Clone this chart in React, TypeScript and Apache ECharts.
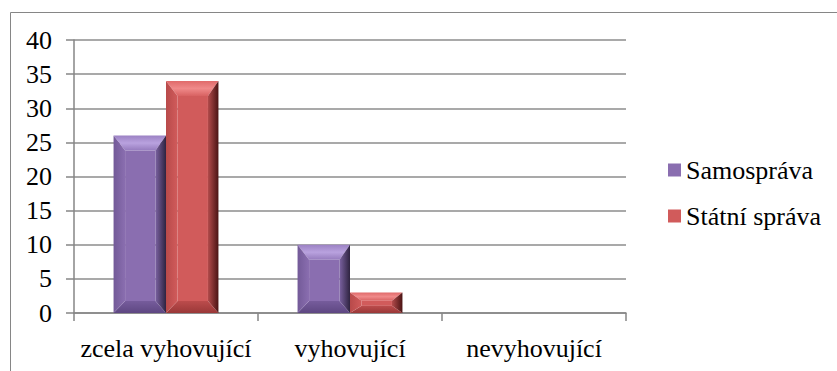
import React, { useEffect, useRef } from "react";
import * as echarts from "echarts";

// Chart data
const categories = ["zcela vyhovující", "vyhovující", "nevyhovující"];
const seriesNames = ["Samospráva", "Státní správa"];
const samospravaValues = [26, 10, 0];
const statniSpravaValues = [34, 3, 0];
const yTicks = { min: 0, max: 40, interval: 5 };

const FONT = "serif";
const FONT_SIZE = 26;
const BAR_RATIO = 0.285; // bar width as share of the category band

type Palette = {
  face: string;
  topA: string;
  topB: string;
  topC: string;
  bottomA: string;
  bottomB: string;
  leftA: string;
  leftB: string;
  rightA: string;
  rightB: string;
};

const purple: Palette = {
  face: "#8A6EB0",
  topA: "#9C82C4",
  topB: "#B9A2DF",
  topC: "#957BBD",
  bottomA: "#765C9C",
  bottomB: "#5E4782",
  leftA: "#735A98",
  leftB: "#8A6EB0",
  rightA: "#7A61A0",
  rightB: "#2E2340",
};

const red: Palette = {
  face: "#D15B5B",
  topA: "#E06A6A",
  topB: "#F08A8A",
  topC: "#D86262",
  bottomA: "#BC4C4C",
  bottomB: "#9A3838",
  leftA: "#B84A4A",
  leftB: "#D15B5B",
  rightA: "#B34B4B",
  rightB: "#4A1414",
};

const lin = (x2: number, y2: number, stops: string[]) => ({
  type: "linear",
  x: 0,
  y: 0,
  x2,
  y2,
  colorStops: stops.map((c, i) => ({ offset: i / (stops.length - 1), color: c })),
});

// Draws one bevelled bar from the category index and value via the axis scales
const makeRenderItem = (slot: number, pal: Palette) => (params: any, api: any) => {
  const cat = api.value(0);
  const val = api.value(1);
  const top = api.coord([cat, val]);
  const base = api.coord([cat, 0]);
  const band = api.size([1, 0])[0];
  const w = band * BAR_RATIO;
  const x = top[0] - w + slot * w;
  const y = top[1];
  const h = base[1] - top[1];
  if (h <= 0.5) return { type: "group", children: [] };

  const T = Math.min(15, h * 0.4);
  const B = Math.min(12, h * 0.35);
  const L = Math.min(12, w * 0.22);
  const R = Math.min(11, w * 0.2);

  return {
    type: "group",
    children: [
      {
        type: "rect",
        shape: { x: x + L, y: y + T, width: w - L - R, height: h - T - B },
        style: { fill: pal.face },
      },
      {
        type: "polygon",
        shape: {
          points: [
            [x, y],
            [x + w, y],
            [x + w - R, y + T],
            [x + L, y + T],
          ],
        },
        style: { fill: lin(0, 1, [pal.topA, pal.topB, pal.topC]) },
      },
      {
        type: "polygon",
        shape: {
          points: [
            [x, y + h],
            [x + w, y + h],
            [x + w - R, y + h - B],
            [x + L, y + h - B],
          ],
        },
        style: { fill: lin(0, 1, [pal.bottomA, pal.bottomB]) },
      },
      {
        type: "polygon",
        shape: {
          points: [
            [x, y],
            [x + L, y + T],
            [x + L, y + h - B],
            [x, y + h],
          ],
        },
        style: { fill: lin(1, 0, [pal.leftA, pal.leftB]) },
      },
      {
        type: "polygon",
        shape: {
          points: [
            [x + w, y],
            [x + w - R, y + T],
            [x + w - R, y + h - B],
            [x + w, y + h],
          ],
        },
        style: { fill: lin(1, 0, [pal.rightA, pal.rightB]) },
      },
    ],
  };
};

export default function App() {
  const ref = useRef<HTMLDivElement>(null);

  useEffect(() => {
    if (!ref.current) return;
    const chart = echarts.init(ref.current, null, { renderer: "svg" });

    const toData = (vals: number[]) => vals.map((v, i) => [i, v]);

    chart.setOption({
      animation: false,
      backgroundColor: "#ffffff",
      graphic: [
        {
          type: "rect",
          left: 8,
          top: 10,
          shape: { x: 0, y: 0, width: 900, height: 400 },
          style: { fill: "none", stroke: "#868686", lineWidth: 1 },
          silent: true,
        },
      ],
      grid: { left: 74, right: 211, top: 40, bottom: 58 },
      legend: {
        orient: "vertical",
        left: 668,
        top: 157,
        padding: 0,
        itemWidth: 13,
        itemHeight: 13,
        itemGap: 20,
        icon: "rect",
        textStyle: { fontFamily: FONT, fontSize: FONT_SIZE, color: "#000" },
        data: seriesNames,
      },
      xAxis: {
        type: "category",
        data: categories,
        boundaryGap: true,
        axisLine: { lineStyle: { color: "#868686", width: 1.5 } },
        axisTick: { show: true, length: 8, lineStyle: { color: "#868686", width: 1.5 } },
        axisLabel: {
          fontFamily: FONT,
          fontSize: FONT_SIZE,
          color: "#000",
          margin: 22,
          interval: 0,
        },
      },
      yAxis: {
        type: "value",
        min: yTicks.min,
        max: yTicks.max,
        interval: yTicks.interval,
        axisLine: { show: true, lineStyle: { color: "#868686", width: 1.5 } },
        axisTick: { show: true, length: 8, lineStyle: { color: "#868686", width: 1.5 } },
        axisLabel: { fontFamily: FONT, fontSize: FONT_SIZE, color: "#000", margin: 22 },
        splitLine: { lineStyle: { color: "#8c8c8c", width: 1.5 } },
      },
      series: [
        {
          name: seriesNames[0],
          type: "custom",
          data: toData(samospravaValues),
          encode: { x: 0, y: 1 },
          itemStyle: { color: purple.face },
          renderItem: makeRenderItem(0, purple),
        },
        {
          name: seriesNames[1],
          type: "custom",
          data: toData(statniSpravaValues),
          encode: { x: 0, y: 1 },
          itemStyle: { color: red.face },
          renderItem: makeRenderItem(1, red),
        },
      ],
    });

    return () => chart.dispose();
  }, []);

  return (
    <div
      ref={ref}
      style={{ position: "fixed", left: 0, top: 0, width: 837, height: 371 }}
    />
  );
}
